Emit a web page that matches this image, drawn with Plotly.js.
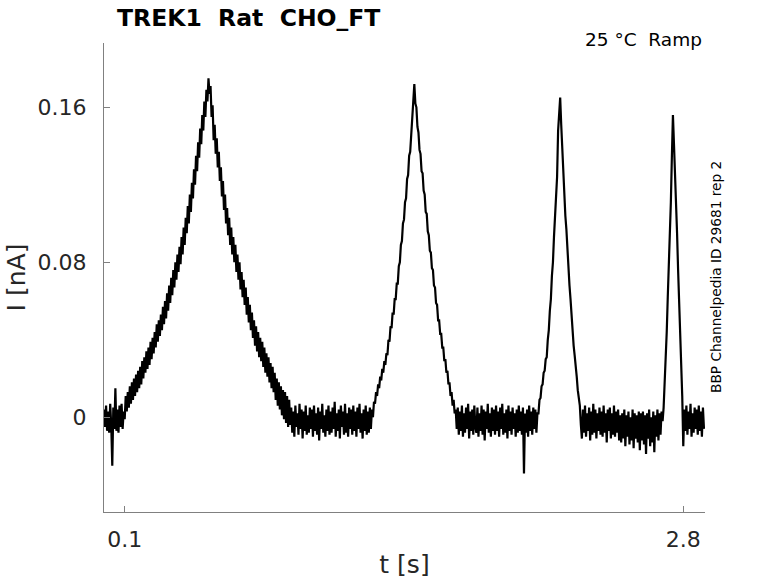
<!DOCTYPE html>
<html>
<head>
<meta charset="utf-8">
<script src="https://cdn.plot.ly/plotly-3.0.1.min.js"></script>
<style>
  html, body { margin: 0; padding: 0; background: #fff; }
  #chart { width: 778px; height: 583px; }
</style>
</head>
<body>
<div id="chart"></div>
<script>
// sampling of the recorded trace (s)
var t0 = 0;
var dt = 0.005;

// current in nA, one row per 0.1 s (20 samples)
var current = [
  0.004, -0.005, 0.006, -0.007, 0.003, -0.008, 0.007, -0.004, -0.025, 0.005, -0.006, 0.015, -0.007, 0.004, -0.008, 0.006, -0.005, 0.007, -0.006, 0.003,   // 0.0
  -0.001, 0.011, 0.003, 0.013, 0.005, 0.016, 0.007, 0.018, 0.009, 0.020, 0.011, 0.022, 0.013, 0.024, 0.015, 0.026, 0.017, 0.029, 0.020, 0.031,           // 0.1
  0.023, 0.034, 0.025, 0.036, 0.027, 0.039, 0.030, 0.041, 0.033, 0.044, 0.036, 0.048, 0.039, 0.050, 0.042, 0.053, 0.045, 0.057, 0.048, 0.060,            // 0.2
  0.051, 0.064, 0.055, 0.068, 0.059, 0.072, 0.063, 0.076, 0.067, 0.080, 0.071, 0.084, 0.075, 0.088, 0.079, 0.093, 0.084, 0.098, 0.089, 0.103,            // 0.3
  0.095, 0.109, 0.100, 0.115, 0.106, 0.121, 0.113, 0.128, 0.120, 0.135, 0.127, 0.142, 0.134, 0.149, 0.141, 0.156, 0.148, 0.163, 0.155, 0.169,            // 0.4
  0.163, 0.175, 0.167, 0.171, 0.155, 0.161, 0.143, 0.151, 0.136, 0.144, 0.129, 0.137, 0.122, 0.129, 0.114, 0.122, 0.107, 0.115, 0.100, 0.108,            // 0.5
  0.094, 0.103, 0.089, 0.098, 0.084, 0.093, 0.080, 0.089, 0.075, 0.084, 0.071, 0.080, 0.066, 0.075, 0.062, 0.071, 0.058, 0.067, 0.053, 0.062,            // 0.6
  0.049, 0.058, 0.045, 0.054, 0.041, 0.050, 0.037, 0.047, 0.034, 0.044, 0.031, 0.041, 0.029, 0.039, 0.026, 0.036, 0.023, 0.033, 0.021, 0.031,            // 0.7
  0.018, 0.028, 0.015, 0.026, 0.013, 0.023, 0.009, 0.020, 0.006, 0.018, 0.004, 0.016, 0.001, 0.014, -0.001, 0.013, -0.003, 0.011, -0.005, 0.009,         // 0.8
  -0.004, 0.005, -0.008, 0.003, -0.010, 0.006, -0.005, 0.002, -0.009, 0.007, -0.006, 0.004, -0.011, 0.003, -0.007, 0.006, -0.009, 0.001, -0.008, 0.005,  // 0.9
  -0.006, 0.004, -0.010, 0.006, -0.007, 0.002, -0.009, 0.005, -0.012, 0.003, -0.006, 0.007, -0.008, 0.001, -0.010, 0.004, -0.007, 0.006, -0.009, 0.003,  // 1.0
  -0.008, 0.005, -0.006, 0.008, -0.010, 0.002, -0.007, 0.004, -0.011, 0.006, -0.005, 0.003, -0.009, 0.007, -0.008, 0.002, -0.010, 0.005, -0.006, 0.004,  // 1.1
  -0.009, 0.006, -0.007, 0.003, -0.010, 0.005, -0.006, 0.007, -0.008, 0.002, -0.011, 0.004, -0.007, 0.006, -0.009, 0.003, -0.008, 0.005, -0.006, 0.004,  // 1.2
  0.000, 0.008, 0.007, 0.013, 0.011, 0.017, 0.015, 0.021, 0.019, 0.025, 0.023, 0.029, 0.027, 0.033, 0.032, 0.040, 0.039, 0.047, 0.046, 0.054,            // 1.3
  0.053, 0.061, 0.061, 0.069, 0.069, 0.078, 0.080, 0.089, 0.091, 0.100, 0.102, 0.111, 0.113, 0.123, 0.125, 0.135, 0.137, 0.147, 0.150, 0.163,            // 1.4
  0.172, 0.162, 0.160, 0.150, 0.147, 0.138, 0.136, 0.127, 0.126, 0.117, 0.115, 0.106, 0.105, 0.096, 0.094, 0.086, 0.085, 0.077, 0.076, 0.068,            // 1.5
  0.067, 0.059, 0.058, 0.050, 0.050, 0.043, 0.043, 0.036, 0.036, 0.029, 0.030, 0.023, 0.024, 0.017, 0.018, 0.011, 0.013, 0.006, 0.009, 0.002,            // 1.6
  0.004, -0.006, 0.005, -0.009, 0.003, -0.007, 0.006, -0.010, 0.002, -0.008, 0.005, -0.006, 0.007, -0.011, 0.003, -0.007, 0.004, -0.009, 0.006, -0.005,  // 1.7
  -0.008, 0.005, -0.010, 0.002, -0.007, 0.006, -0.009, 0.004, -0.012, 0.003, -0.006, 0.007, -0.008, 0.002, -0.010, 0.005, -0.007, 0.004, -0.009, 0.006,  // 1.8
  -0.007, 0.003, -0.010, 0.005, -0.006, 0.007, -0.009, 0.002, -0.008, 0.004, -0.011, 0.006, -0.007, 0.003, -0.009, 0.005, -0.006, 0.002, -0.010, 0.004,  // 1.9
  -0.008, 0.006, -0.007, 0.003, -0.009, 0.005, -0.029, 0.002, -0.008, 0.004, -0.010, 0.006, -0.007, 0.003, -0.009, 0.005, -0.006, 0.004, -0.008, 0.002,  // 2.0
  0.002, 0.009, 0.010, 0.016, 0.017, 0.023, 0.024, 0.030, 0.031, 0.040, 0.045, 0.055, 0.061, 0.073, 0.080, 0.093, 0.102, 0.115, 0.124, 0.148,            // 2.1
  0.159, 0.165, 0.151, 0.139, 0.124, 0.116, 0.104, 0.097, 0.086, 0.079, 0.068, 0.061, 0.051, 0.046, 0.037, 0.032, 0.024, 0.021, 0.014, 0.011,            // 2.2
  0.006, -0.004, -0.011, 0.004, -0.008, 0.006, -0.010, 0.002, -0.007, 0.005, -0.012, 0.003, -0.009, 0.007, -0.008, 0.004, -0.011, 0.002, -0.007, 0.005,  // 2.3
  -0.009, 0.003, -0.010, 0.006, -0.008, 0.002, -0.013, 0.004, -0.007, 0.005, -0.011, 0.002, -0.009, 0.006, -0.010, 0.003, -0.008, 0.004, -0.012, 0.001,  // 2.4
  -0.013, 0.002, -0.011, 0.004, -0.015, 0.001, -0.010, 0.003, -0.014, 0.000, -0.012, 0.004, -0.016, 0.002, -0.011, 0.001, -0.013, 0.003, -0.017, 0.002,  // 2.5
  -0.012, 0.003, -0.014, 0.001, -0.019, 0.002, -0.011, 0.004, -0.015, 0.000, -0.013, 0.003, -0.018, 0.001, -0.010, 0.004, -0.012, 0.002, -0.009, 0.003,  // 2.6
  -0.002, 0.005, 0.017, 0.032, 0.044, 0.062, 0.076, 0.095, 0.111, 0.135, 0.156, 0.141, 0.128, 0.110, 0.095, 0.076, 0.061, 0.043, 0.028, 0.011,           // 2.7
  -0.015, 0.004, -0.007, 0.006, -0.009, 0.003, -0.006, 0.007, -0.010, 0.002, -0.008, 0.005, -0.006, 0.004, -0.009, 0.006, -0.007, 0.003, -0.010, 0.005,  // 2.8
  -0.006                                                                                                                                              // 2.9
];

var xTicks = [0.1, 2.8];
var xTickText = ['0.1', '2.8'];
var yTicks = [0, 0.08, 0.16];
var yTickText = ['0', '0.08', '0.16'];

var font = 'DejaVu Sans';
var axisGrey = '#808080';
var labelGrey = '#262626';

var trace = {
  type: 'scatter',
  mode: 'lines',
  x0: t0,
  dx: dt,
  y: current,
  line: { color: '#000', width: 2.2 },
  hoverinfo: 'skip'
};

var layout = {
  width: 778,
  height: 583,
  margin: { l: 104, r: 73, t: 43, b: 71 },
  paper_bgcolor: '#fff',
  plot_bgcolor: '#fff',
  showlegend: false,
  font: { family: font, color: labelGrey },
  title: {
    text: '<b>TREK1\u00a0\u00a0Rat\u00a0\u00a0CHO_FT</b>',
    font: { family: font, size: 23.5, color: '#000' },
    xref: 'container', x: 117 / 778, xanchor: 'left',
    yref: 'container', y: 1 - 18 / 583, yanchor: 'middle'
  },
  xaxis: {
    range: [0, 2.905],
    tickmode: 'array', tickvals: xTicks, ticktext: xTickText,
    ticks: 'inside', ticklen: 6, tickcolor: axisGrey, tickwidth: 1,
    ticklabelstandoff: 8,
    showline: true, linecolor: axisGrey, linewidth: 1,
    showgrid: false, zeroline: false,
    tickfont: { family: font, size: 22, color: labelGrey },
    title: { text: 't [s]', font: { family: font, size: 25, color: labelGrey }, standoff: 4 },
    automargin: false
  },
  yaxis: {
    range: [-0.0489, 0.1932],
    tickmode: 'array', tickvals: yTicks, ticktext: yTickText,
    ticks: 'inside', ticklen: 6, tickcolor: axisGrey, tickwidth: 1,
    ticklabelstandoff: 12,
    showline: true, linecolor: axisGrey, linewidth: 1,
    showgrid: false, zeroline: false,
    tickfont: { family: font, size: 22, color: labelGrey },
    title: { text: 'I [nA]', font: { family: font, size: 25, color: labelGrey }, standoff: 4 },
    automargin: false
  },
  annotations: [
    {
      text: '25 °C\u00a0\u00a0Ramp',
      xref: 'paper', yref: 'paper',
      x: (704 - 104) / 601, xanchor: 'right',
      y: (512 - 40) / 469, yanchor: 'middle',
      showarrow: false,
      font: { family: font, size: 18.5, color: '#000' }
    },
    {
      text: 'BBP Channelpedia ID 29681 rep 2',
      xref: 'paper', yref: 'paper',
      x: (716 - 104) / 601, xanchor: 'center',
      y: (512 - 277) / 469, yanchor: 'middle',
      textangle: -90,
      showarrow: false,
      font: { family: font, size: 13.7, color: '#000' }
    }
  ]
};

Plotly.newPlot('chart', [trace], layout, { displayModeBar: false, staticPlot: true });
</script>
</body>
</html>
